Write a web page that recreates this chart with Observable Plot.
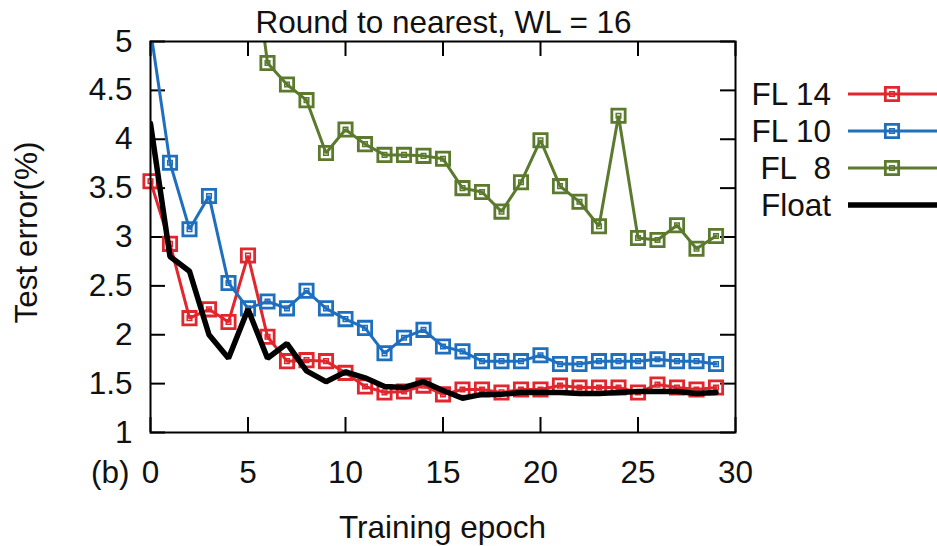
<!DOCTYPE html>
<html>
<head>
<meta charset="utf-8">
<script src="https://cdn.jsdelivr.net/npm/d3@7"></script>
<script src="https://cdn.jsdelivr.net/npm/@observablehq/plot@0.6"></script>
<style>
  html, body { margin: 0; padding: 0; background: #fff; }
  #chart { width: 937px; height: 546px; }
</style>
</head>
<body>
<div id="chart"></div>
<script>
// ---- data ----
const titleText = "Round to nearest, WL = 16";
const xLabel = "Training epoch";
const yLabel = "Test error(%)";
const panelTag = "(b)";

const epochs = [0,1,2,3,4,5,6,7,8,9,10,11,12,13,14,15,16,17,18,19,20,21,22,23,24,25,26,27,28,29];
const xTicks = [0, 5, 10, 15, 20, 25, 30];
const yTicks = [1, 1.5, 2, 2.5, 3, 3.5, 4, 4.5, 5];

const seriesNames = ["FL 14", "FL 10", "FL  8", "Float"];
const seriesColors = ["#e2262d", "#1f6fbf", "#5b7a2e", "#000000"];

const fl14 = [3.57,2.93,2.17,2.26,2.13,2.81,1.98,1.73,1.74,1.73,1.61,1.47,1.41,1.42,1.48,1.39,1.44,1.44,1.41,1.44,1.44,1.48,1.46,1.46,1.46,1.41,1.49,1.46,1.44,1.46];
const fl10 = [5.12,3.76,3.08,3.42,2.53,2.27,2.34,2.27,2.45,2.27,2.16,2.07,1.81,1.97,2.05,1.88,1.83,1.73,1.73,1.73,1.79,1.70,1.70,1.73,1.73,1.73,1.75,1.73,1.73,1.70];
const fl8  = [null,null,null,null,null,6.3,4.78,4.56,4.40,3.86,4.10,3.95,3.84,3.84,3.83,3.80,3.50,3.46,3.26,3.56,3.99,3.52,3.36,3.11,4.24,2.99,2.97,3.12,2.88,3.01];
const floatErr = [4.16,2.80,2.65,2.00,1.76,2.26,1.76,1.91,1.63,1.52,1.62,1.56,1.47,1.46,1.52,1.43,1.35,1.39,1.39,1.41,1.41,1.41,1.40,1.40,1.41,1.42,1.42,1.42,1.40,1.41];

// ---- build table ----
const seriesValues = [fl14, fl10, fl8, floatErr];
function rowsOf(i) {
  return epochs.map((e, j) => ({series: seriesNames[i], epoch: e, value: seriesValues[i][j]}))
               .filter(d => d.value != null);
}

const W = 937, H = 546;
const mL = 150, mR = 202, mT = 41, mB = 114;
const fw = W - mL - mR, fh = H - mT - mB;
const FONT = "'Liberation Sans', Arial, Helvetica, sans-serif";
const FS = 31.5;
const tickLen = 15;

function seriesMarks(i, withMarkers, clip) {
  const data = rowsOf(i);
  const c = seriesColors[i];
  const marks = [
    Plot.line(data, {x: "epoch", y: "value", stroke: c, strokeWidth: i === 3 ? 5.5 : 3, clip: true, strokeLinejoin: "miter"})
  ];
  if (withMarkers) {
    marks.push(Plot.dot(data, {x: "epoch", y: "value", symbol: "square", r: 7.5, stroke: c, strokeWidth: 2.8, fill: "none", clip}));
    marks.push(Plot.dot(data, {x: "epoch", y: "value", symbol: "square", r: 2.6, stroke: c, strokeWidth: 1.5, fill: "none", clip}));
  }
  return marks;
}

const chart = Plot.plot({
  width: W, height: H,
  marginLeft: mL, marginRight: mR, marginTop: mT, marginBottom: mB,
  style: {fontFamily: FONT, fontSize: FS + "px", color: "#111", background: "#fff", overflow: "visible"},
  x: {domain: [0, 30], ticks: xTicks, tickSize: 0, tickPadding: 28, label: null, tickFormat: d => String(d)},
  y: {domain: [1, 5], ticks: yTicks, tickSize: 0, tickPadding: 18, label: null, tickFormat: d => String(d)},
  marks: [
    Plot.ruleY(yTicks, {y: d => d, insetRight: fw - tickLen, stroke: "#000", strokeWidth: 2}),
    Plot.ruleY(yTicks, {y: d => d, insetLeft: fw - tickLen, stroke: "#000", strokeWidth: 2}),
    Plot.ruleX(xTicks, {x: d => d, insetTop: fh - tickLen, stroke: "#000", strokeWidth: 2}),
    Plot.ruleX(xTicks, {x: d => d, insetBottom: fh - tickLen, stroke: "#000", strokeWidth: 2}),
    ...seriesMarks(0, true, false),
    ...seriesMarks(1, true, true),
    ...seriesMarks(2, true, true),
    ...seriesMarks(3, false, true),
    Plot.frame({stroke: "#000", strokeWidth: 2})
  ]
});

document.getElementById("chart").appendChild(chart);

// ---- titles, labels and legend ----
const svg = d3.select(chart);
const txt = (x, y, s, anchor) => svg.append("text")
  .attr("x", x).attr("y", y).attr("text-anchor", anchor)
  .attr("font-family", FONT).attr("font-size", FS).attr("fill", "#111")
  .style("white-space", "pre").text(s);

txt(mL + fw / 2 + 1, 33, titleText, "middle");
txt(mL + fw / 2, 538, xLabel, "middle");
txt(91, 483, panelTag, "start");
txt(0, 0, yLabel, "middle").attr("transform", `translate(37,${mT + fh / 2 - 4}) rotate(-90)`);

const legY = [94, 131, 168, 205];
seriesNames.forEach((name, i) => {
  const y = legY[i];
  txt(831, y + 11, name, "end");
  svg.append("line").attr("x1", 848).attr("x2", 937).attr("y1", y).attr("y2", y)
    .attr("stroke", seriesColors[i]).attr("stroke-width", i === 3 ? 5.5 : 3);
  if (i < 3) {
    svg.append("path").attr("transform", `translate(892,${y})`)
      .attr("d", d3.symbol(d3.symbolSquare).size(7.5 * 7.5 * Math.PI)()).attr("fill", "none")
      .attr("stroke", seriesColors[i]).attr("stroke-width", 2.8);
    svg.append("path").attr("transform", `translate(892,${y})`)
      .attr("d", d3.symbol(d3.symbolSquare).size(2.6 * 2.6 * Math.PI)()).attr("fill", "none")
      .attr("stroke", seriesColors[i]).attr("stroke-width", 1.5);
  }
});
</script>
</body>
</html>
